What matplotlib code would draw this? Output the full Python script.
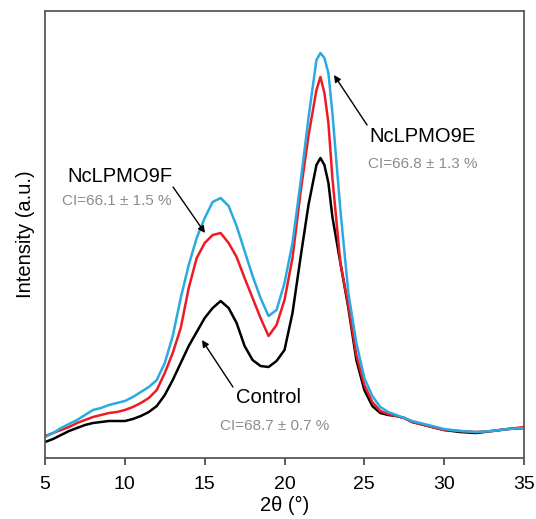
import numpy as np
import matplotlib
matplotlib.use('Agg')
from matplotlib import pyplot as plt

plt.rcParams['font.family'] = ['Liberation Sans', 'DejaVu Sans']

two_theta = [5, 5.5, 6, 6.5, 7, 7.5, 8, 8.5, 9, 9.5, 10, 10.5, 11, 11.5, 12, 12.5,
             13, 13.5, 14, 14.5, 15, 15.5, 16, 16.5, 17, 17.5, 18, 18.5, 19, 19.5,
             20, 20.5, 21, 21.5, 22, 22.25, 22.5, 22.75, 23, 23.5, 24, 24.5, 25,
             25.5, 26, 26.5, 27, 27.5, 28, 29, 30, 31, 32, 33, 34, 35]

control = [16, 19, 23, 27, 30, 33, 35, 36, 37, 37, 37, 39, 42, 46, 52, 63,
           78, 95, 112, 126, 140, 150, 157, 150, 135, 112, 98, 92, 91, 97,
           108, 145, 200, 253, 293, 300, 293, 275, 241, 195, 150, 98, 68,
           52, 45, 43, 42, 40, 36, 32, 28, 26, 25, 27, 29, 30]

lpmo9f = [22, 25, 28, 31, 35, 38, 41, 43, 45, 46, 48, 51, 55, 60, 68, 85,
          105, 130, 170, 200, 215, 223, 225, 215, 201, 180, 160, 140, 122, 133,
          158, 200, 265, 322, 368, 381, 365, 335, 280, 195, 153, 103, 73,
          56, 47, 44, 42, 40, 36, 32, 28, 27, 26, 27, 29, 31]

lpmo9e = [21, 25, 30, 34, 38, 43, 48, 50, 53, 55, 57, 61, 66, 71, 78, 95,
          122, 160, 193, 220, 240, 256, 260, 252, 232, 207, 182, 160, 142, 148,
          175, 215, 275, 340, 398, 405, 400, 385, 345, 248, 165, 115, 80,
          62, 51, 46, 43, 40, 37, 33, 29, 27, 26, 27, 29, 30]

fig = plt.figure(figsize=(5.36, 5.19), dpi=100)
ax = fig.add_axes([0.084, 0.1175, 0.8936, 0.8613])

ax.plot(two_theta, control, color='black', lw=1.8)
ax.plot(two_theta, lpmo9f, color='#ed1c24', lw=1.8)
ax.plot(two_theta, lpmo9e, color='#29abe2', lw=1.8)

ax.set_xlim(5, 35)
ax.set_ylim(0, 447)
ax.set_xticks([5, 10, 15, 20, 25, 30, 35])
ax.set_yticks([])
ax.tick_params(axis='x', direction='out', length=5, width=1.2, colors='#404040',
               labelsize=14, labelcolor='black', pad=8)
for s in ax.spines.values():
    s.set_color('#595959')
    s.set_linewidth(1.3)

ax.set_xlabel('2θ (°)', fontsize=14.5, labelpad=2)
ax.set_ylabel('Intensity (a.u.)', fontsize=14.5, labelpad=7)

arrow = dict(arrowstyle='-|>', color='black', lw=1.0, mutation_scale=10, shrinkA=0, shrinkB=0)
grey = '#8c8c8c'

# NcLPMO9F
ax.text(9.7, 282, 'NcLPMO9F', fontsize=14.5, ha='center', va='center')
ax.text(9.5, 257, 'CI=66.1 ± 1.5 %', fontsize=11, color=grey, ha='center', va='center')
ax.annotate('', xy=(15.02, 225), xytext=(13.02, 271), arrowprops=arrow)

# NcLPMO9E
ax.text(28.67, 322, 'NcLPMO9E', fontsize=14.5, ha='center', va='center')
ax.text(28.67, 294, 'CI=66.8 ± 1.3 %', fontsize=11, color=grey, ha='center', va='center')
ax.annotate('', xy=(23.1, 383), xytext=(25.17, 333), arrowprops=arrow)

# Control
ax.text(18.97, 61, 'Control', fontsize=14.5, ha='center', va='center')
ax.text(19.4, 32, 'CI=68.7 ± 0.7 %', fontsize=11, color=grey, ha='center', va='center')
ax.annotate('', xy=(14.83, 118), xytext=(16.77, 71), arrowprops=arrow)

fig.savefig('out.png', dpi=100)
